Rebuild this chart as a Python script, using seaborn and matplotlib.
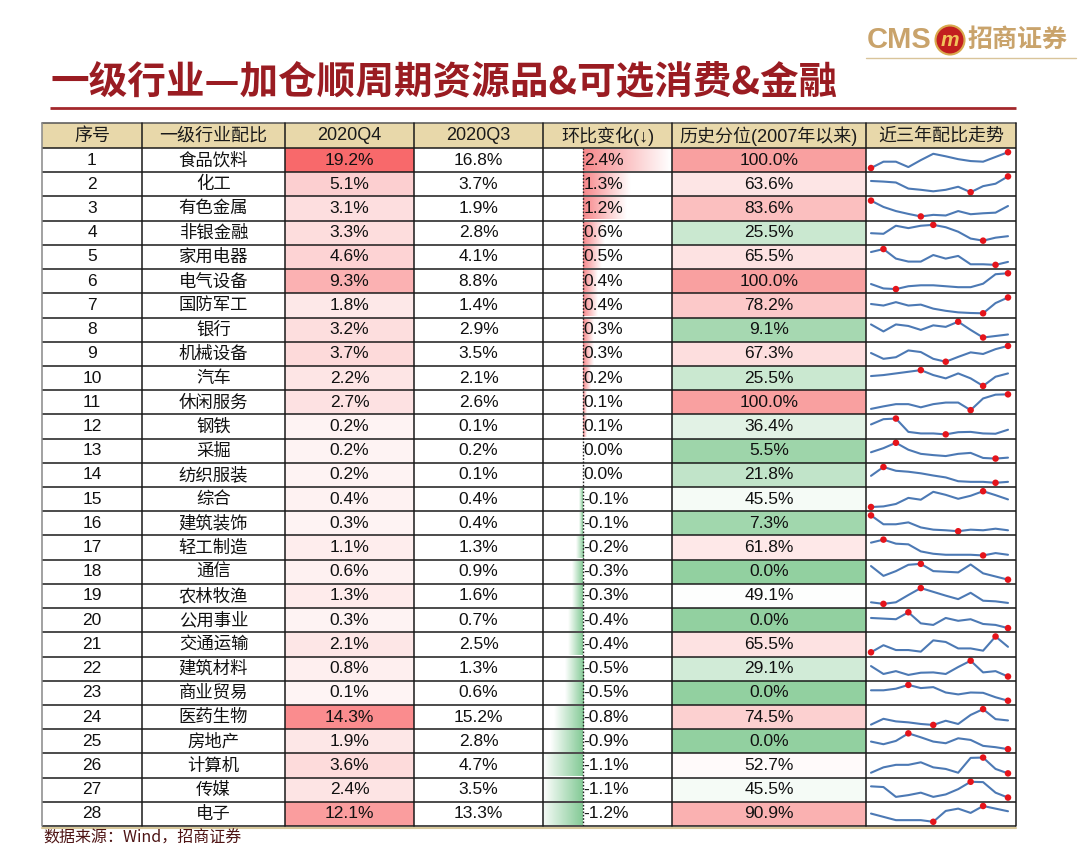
import numpy as np
import pandas as pd
import matplotlib
matplotlib.use("Agg")
import matplotlib.pyplot as plt
import seaborn as sns
from matplotlib.colors import LinearSegmentedColormap, ListedColormap, to_rgb
from matplotlib.patches import Rectangle, Circle

# 一级行业配比数据
seq = list(range(1, 29))
names = ['食品饮料', '化工', '有色金属', '非银金融', '家用电器', '电气设备', '国防军工',
         '银行', '机械设备', '汽车', '休闲服务', '钢铁', '采掘', '纺织服装', '综合',
         '建筑装饰', '轻工制造', '通信', '农林牧渔', '公用事业', '交通运输', '建筑材料',
         '商业贸易', '医药生物', '房地产', '计算机', '传媒', '电子']
q4 = [19.2, 5.1, 3.1, 3.3, 4.6, 9.3, 1.8, 3.2, 3.7, 2.2, 2.7, 0.2, 0.2, 0.2, 0.4,
      0.3, 1.1, 0.6, 1.3, 0.3, 2.1, 0.8, 0.1, 14.3, 1.9, 3.6, 2.4, 12.1]
q3 = [16.8, 3.7, 1.9, 2.8, 4.1, 8.8, 1.4, 2.9, 3.5, 2.1, 2.6, 0.1, 0.2, 0.1, 0.4,
      0.4, 1.3, 0.9, 1.6, 0.7, 2.5, 1.3, 0.6, 15.2, 2.8, 4.7, 3.5, 13.3]
chg = [2.4, 1.3, 1.2, 0.6, 0.5, 0.4, 0.4, 0.3, 0.3, 0.2, 0.1, 0.1, 0.0, 0.0, -0.1,
       -0.1, -0.2, -0.3, -0.3, -0.4, -0.4, -0.5, -0.5, -0.8, -0.9, -1.1, -1.1, -1.2]
pct = [100.0, 63.6, 83.6, 25.5, 65.5, 100.0, 78.2, 9.1, 67.3, 25.5, 100.0, 36.4, 5.5,
       21.8, 45.5, 7.3, 61.8, 0.0, 49.1, 0.0, 65.5, 29.1, 0.0, 74.5, 0.0, 52.7, 45.5, 90.9]

# 近三年配比走势（12个季度，读图得到的相对高度）
spark = [
    [5, 25, 25, 8, 30, 50, 42, 33, 27, 25, 40, 55],
    [42, 40, 37, 17, 13, 8, 13, 23, 5, 25, 33, 57],
    [60, 40, 27, 18, 10, 15, 13, 27, 17, 20, 22, 43],
    [30, 28, 55, 47, 55, 58, 50, 35, 12, 5, 15, 20],
    [50, 60, 28, 18, 18, 40, 28, 37, 9, 9, 7, 17],
    [24, 10, 8, 17, 20, 20, 17, 14, 14, 25, 55, 58],
    [32, 27, 38, 27, 30, 17, 10, 5, 3, 2, 35, 53],
    [50, 27, 50, 45, 32, 47, 42, 59, 32, 7, 12, 17],
    [35, 17, 22, 43, 38, 17, 8, 23, 37, 32, 47, 57],
    [40, 43, 48, 53, 58, 43, 33, 48, 33, 10, 38, 48],
    [14, 22, 29, 29, 19, 29, 34, 34, 10, 47, 59, 60],
    [42, 59, 61, 18, 13, 13, 10, 17, 18, 13, 12, 25],
    [30, 43, 60, 38, 25, 21, 18, 25, 28, 12, 10, 13],
    [34, 62, 50, 47, 42, 35, 29, 17, 15, 15, 12, 15],
    [8, 10, 18, 38, 32, 58, 48, 35, 45, 60, 47, 33],
    [58, 30, 30, 36, 20, 13, 11, 8, 13, 11, 16, 11],
    [50, 59, 47, 45, 24, 17, 14, 14, 14, 12, 19, 14],
    [53, 22, 37, 57, 60, 37, 35, 33, 58, 30, 20, 10],
    [15, 10, 15, 38, 60, 48, 36, 25, 45, 20, 18, 13],
    [42, 40, 38, 60, 25, 20, 42, 33, 38, 23, 20, 10],
    [13, 35, 20, 20, 15, 50, 45, 25, 25, 18, 62, 30],
    [41, 16, 25, 13, 20, 21, 16, 38, 58, 21, 25, 8],
    [43, 43, 48, 60, 50, 53, 36, 30, 36, 35, 21, 10],
    [10, 28, 20, 17, 12, 9, 22, 12, 40, 58, 27, 23],
    [33, 25, 35, 58, 46, 33, 28, 43, 38, 20, 16, 10],
    [10, 27, 35, 35, 43, 27, 22, 10, 57, 58, 22, 8],
    [42, 40, 12, 17, 24, 12, 19, 34, 55, 54, 24, 10],
    [35, 25, 15, 15, 15, 10, 43, 50, 37, 58, 50, 42],
]

headers = ['序号', '一级行业配比', '2020Q4', '2020Q3', '环比变化(↓)',
           '历史分位(2007年以来)', '近三年配比走势']
title = '一级行业—加仓顺周期资源品&可选消费&金融'
source = '数据来源：Wind，招商证券'

sns.set_theme(style="white")
plt.rcParams['font.family'] = ['Liberation Sans', 'Noto Sans CJK SC', 'DejaVu Sans']

W, H = 1080, 851
fig = plt.figure(figsize=(W / 100, H / 100), dpi=100)

cols = [42, 142, 285, 414, 543, 672, 866, 1016]
head_top, top, bottom = 123, 148, 826
n = len(names)
rh = (bottom - top) / n


def place(x0, y0, x1, y1, z=1):
    return fig.add_axes([x0 / W, 1 - y1 / H, (x1 - x0) / W, (y1 - y0) / H], zorder=z)


def pct_label(v):
    return f"{v:.1f}%"


num_font = 12.5

# 2020Q4 色阶
ax_q4 = place(cols[2], top, cols[3], bottom)
red_cmap = LinearSegmentedColormap.from_list('wr', ['#FEF4F4', '#F8696B'])
sns.heatmap(pd.DataFrame({'v': q4}), ax=ax_q4, cmap=red_cmap, vmin=min(q4), vmax=max(q4),
            annot=np.array([pct_label(v) for v in q4]).reshape(-1, 1), fmt='',
            cbar=False, xticklabels=False, yticklabels=False,
            annot_kws=dict(fontsize=num_font, color='#111111'))

# 2020Q3 无填充
ax_q3 = place(cols[3], top, cols[4], bottom)
sns.heatmap(pd.DataFrame({'v': q3}), ax=ax_q3, cmap=ListedColormap(['white']),
            annot=np.array([pct_label(v) for v in q3]).reshape(-1, 1), fmt='',
            cbar=False, xticklabels=False, yticklabels=False,
            annot_kws=dict(fontsize=num_font, color='#111111'))

# 历史分位 三色阶
ax_p = place(cols[5], top, cols[6], bottom)
gwr = LinearSegmentedColormap.from_list('gwr', ['#92D0A0', '#FFFFFF', '#F9A0A0'])
sns.heatmap(pd.DataFrame({'v': pct}), ax=ax_p, cmap=gwr, vmin=0, vmax=100, center=50,
            annot=np.array([pct_label(v) for v in pct]).reshape(-1, 1), fmt='',
            cbar=False, xticklabels=False, yticklabels=False,
            annot_kws=dict(fontsize=num_font, color='#111111'))

# 环比变化 渐变数据条
ax_b = place(cols[4], top, cols[5], bottom)
df_b = pd.DataFrame({'name': names, 'chg': chg})
sns.barplot(data=df_b, x='chg', y='name', orient='h', width=0.9, color='white',
            errorbar=None, ax=ax_b)
t = np.linspace(0, 1, 128)[:, None]
for p in ax_b.patches:
    w = p.get_width()
    if w == 0:
        p.set_visible(False)
        continue
    base = np.array(to_rgb('#F7878A' if w > 0 else '#84CA96'))
    grad = np.ones((1, 128, 3))
    grad[0] = base * (1 - t) + t
    x0, y0, h = p.get_x(), p.get_y(), p.get_height()
    ax_b.imshow(grad, extent=[x0, x0 + w, y0 + h, y0], aspect='auto',
                interpolation='bilinear', zorder=1)
    p.set_visible(False)
for i, v in enumerate(chg):
    ax_b.text(0.02, i, pct_label(v), ha='left', va='center', fontsize=num_font,
              color='#111111', zorder=3)
ax_b.axvline(0, color='#222222', lw=1, ls=(0, (1.2, 1.2)), zorder=2)
ax_b.set_xlim(-1.1, 2.45)
ax_b.set_ylim(n - 0.5, -0.5)
ax_b.axis('off')

# 近三年配比走势 迷你折线
for i, vals in enumerate(spark):
    y0 = top + i * rh
    ax_s = place(871, y0 + 4.2, 1008, y0 + rh - 4.2)
    d = pd.DataFrame({'q': range(len(vals)), 'v': vals})
    sns.lineplot(data=d, x='q', y='v', ax=ax_s, color='#4C79B4', lw=1.5, clip_on=False)
    imin, imax = int(np.argmin(vals)), int(np.argmax(vals))
    sns.scatterplot(x=[imin, imax], y=[vals[imin], vals[imax]], ax=ax_s, color='#E5141B',
                    s=22, edgecolor='none', zorder=3, clip_on=False)
    ax_s.set_xlim(0, len(vals) - 1)
    ax_s.set_ylim(min(vals), max(vals))
    ax_s.axis('off')

# 表格框线、表头、标题等
ax = place(0, 0, W, H, z=10)
ax.set_xlim(0, W)
ax.set_ylim(H, 0)
ax.patch.set_alpha(0)
ax.axis('off')

ax.add_patch(Rectangle((cols[0], head_top), cols[-1] - cols[0], top - head_top,
                       facecolor='#E8D8AA', edgecolor='none', zorder=0))
for k in range(n + 1):
    y = top + k * rh
    ax.plot([cols[0], cols[-1]], [y, y], color='#1A1A1A', lw=1.1, solid_capstyle='butt')
ax.plot([cols[0], cols[-1]], [head_top, head_top], color='#555555', lw=1.1)
ax.plot([cols[0], cols[-1]], [bottom + 1.5, bottom + 1.5], color='#D8C89A', lw=1.5)
for k, x in enumerate(cols):
    ax.plot([x, x], [head_top, bottom], color='#888888' if k == 0 else '#1A1A1A', lw=1.1)

for k, h in enumerate(headers):
    cx = (cols[k] + cols[k + 1]) / 2
    fs = 13 if h.startswith('2020') else 13
    ax.text(cx, (head_top + top) / 2 + 0.5, h, ha='center', va='center', fontsize=fs,
            color='#1A1A1A')

for i in range(n):
    cy = top + (i + 0.5) * rh
    ax.text((cols[0] + cols[1]) / 2, cy, str(seq[i]), ha='center', va='center',
            fontsize=num_font, color='#111111')
    ax.text((cols[1] + cols[2]) / 2, cy, names[i], ha='center', va='center',
            fontsize=12.5, color='#111111')

ax.text(50, 82, title, ha='left', va='center', fontsize=27.8, fontweight='bold',
        color='#9A1C22', family=['Noto Sans CJK SC', 'DejaVu Sans'])
ax.plot([50, cols[-1]], [108, 108], color='#A3282C', lw=2, solid_capstyle='butt')

# logo
ax.text(867, 40, 'CMS', ha='left', va='center', fontsize=21, fontweight='bold',
        color='#C9A36B')
ax.add_patch(Circle((950, 40), 14.5, facecolor='#C21F1F', edgecolor='#D9A94E', lw=1.5))
ax.text(950, 40, 'm', ha='center', va='center', fontsize=15, fontweight='bold',
        style='italic', color='#F1C35A')
ax.text(968, 40, '招商证券', ha='left', va='center', fontsize=18, fontweight='bold',
        color='#C9A36B', family=['Noto Sans CJK SC', 'DejaVu Sans'])
ax.plot([866, 1076], [58, 58], color='#D9C49A', lw=1)

ax.text(43, 838, source, ha='left', va='center', fontsize=11.5, color='#4E1414',
        family=['Noto Sans CJK SC', 'DejaVu Sans'])

fig.savefig('out.png', dpi=100)
